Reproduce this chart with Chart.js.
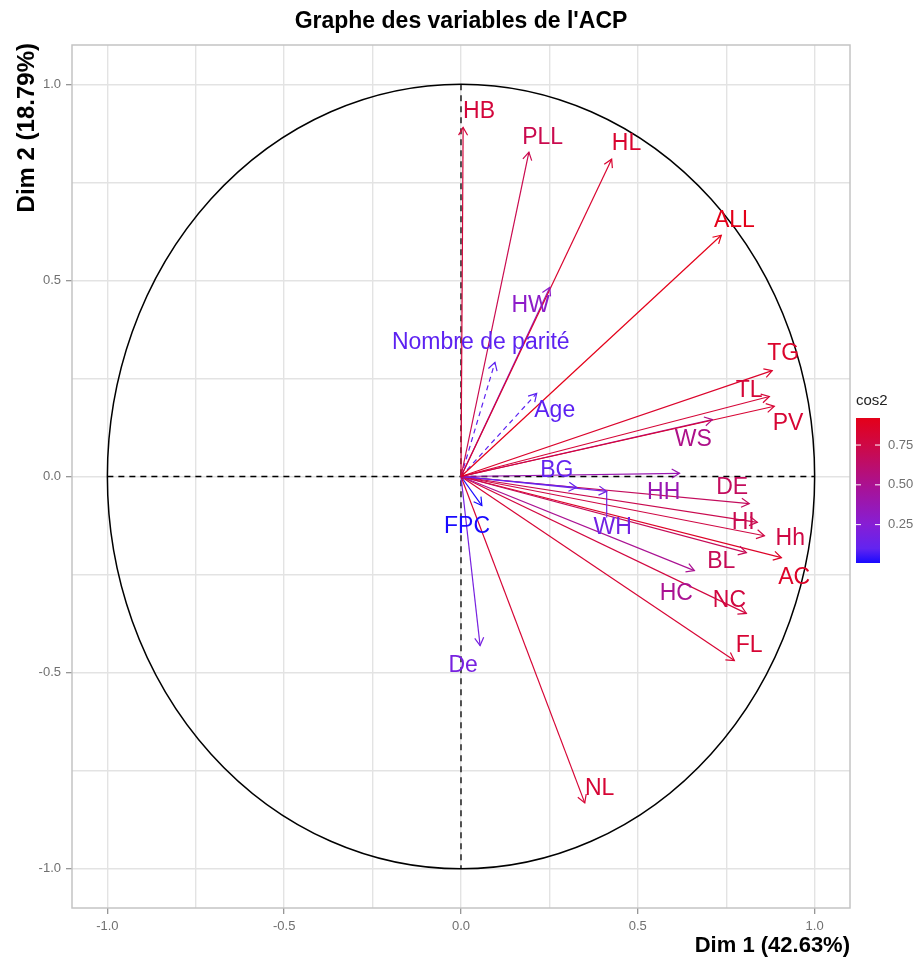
<!DOCTYPE html>
<html>
<head>
<meta charset="utf-8">
<script src="https://cdn.jsdelivr.net/npm/chart.js@4.4.0/dist/chart.umd.min.js"></script>
<style>
    body { margin: 0; background: #fff; }
    #acp-chart { display: block; }
</style>
</head>
<body>
<canvas id="acp-chart" width="920" height="964"></canvas>
<script>
const FONT = '"Liberation Sans", Arial, sans-serif'

// active variables: coordinates on Dim 1 / Dim 2
const varNames = ['HB', 'PLL', 'HL', 'ALL', 'HW', 'TG', 'TL', 'PV', 'WS', 'HH', 'BG', 'WH',
    'DE', 'HI', 'Hh', 'BL', 'AC', 'HC', 'NC', 'FL', 'NL', 'FPC', 'De']
const dim1 = [0.006, 0.192, 0.426, 0.736, 0.251, 0.880, 0.872, 0.886, 0.711, 0.618, 0.327, 0.412,
    0.815, 0.838, 0.858, 0.807, 0.906, 0.660, 0.807, 0.773, 0.350, 0.059, 0.054]
const dim2 = [0.890, 0.827, 0.809, 0.615, 0.482, 0.270, 0.204, 0.179, 0.145, 0.008, -0.028, -0.038,
    -0.069, -0.117, -0.151, -0.194, -0.207, -0.240, -0.349, -0.469, -0.832, -0.074, -0.431]
// where the (repelled) labels sit
const labelDim1 = [0.051, 0.231, 0.468, 0.773, 0.197, 0.911, 0.815, 0.925, 0.657, 0.573, 0.271, 0.429,
    0.767, 0.798, 0.931, 0.736, 0.942, 0.609, 0.759, 0.815, 0.392, 0.017, 0.006]
const labelDim2 = [0.931, 0.865, 0.849, 0.653, 0.436, 0.314, 0.219, 0.135, 0.094, -0.041, 0.015, -0.130,
    -0.028, -0.117, -0.158, -0.217, -0.258, -0.298, -0.316, -0.431, -0.796, -0.128, -0.482]

// supplementary variables (dashed)
const supNames = ['Nombre de parité', 'Age']
const supDim1 = [0.096, 0.214]
const supDim2 = [0.291, 0.212]
const supLabelDim1 = [0.056, 0.265]
const supLabelDim2 = [0.342, 0.168]

const gridTicks = [-1, -0.75, -0.5, -0.25, 0, 0.25, 0.5, 0.75, 1]
const majorTicks = [-1, -0.5, 0, 0.5, 1]
const tickLabels = ['-1.0', '-0.5', '0.0', '0.5', '1.0']
const legendTicks = [0.25, 0.5, 0.75]
const legendTickLabels = ['0.25', '0.50', '0.75']

const cos2 = dim1.map((v, i) => v * v + dim2[i] * dim2[i])
const supCos2 = supDim1.map((v, i) => v * v + supDim2[i] * supDim2[i])
const allCos2 = cos2.concat(supCos2)
const COS2_MIN = Math.min(...allCos2)
const COS2_MAX = Math.max(...allCos2)

// blue -> purple -> red
const STOPS = [
    [0, [25, 10, 255]],
    [0.1, [98, 36, 240]],
    [0.27, [135, 30, 212]],
    [0.52, [168, 18, 150]],
    [0.78, [202, 10, 78]],
    [1, [228, 0, 25]]
]

function cos2Color(v) {
    let t = (v - COS2_MIN) / (COS2_MAX - COS2_MIN)
    t = Math.max(0, Math.min(1, t))
    for (let i = 1; i < STOPS.length; i++) {
        if (t <= STOPS[i][0]) {
            const [t0, c0] = STOPS[i - 1]
            const [t1, c1] = STOPS[i]
            const f = (t - t0) / (t1 - t0)
            const c = c0.map((c, k) => Math.round(c + (c1[k] - c) * f))
            return `rgb(${c[0]},${c[1]},${c[2]})`
        }
    }
    return 'rgb(228,0,25)'
}

// one dataset per arrow: origin -> variable coordinates
const arrows = varNames.map((name, i) => ({
    name: name,
    x: dim1[i], y: dim2[i],
    lx: labelDim1[i], ly: labelDim2[i],
    color: cos2Color(cos2[i]),
    dashed: false
})).concat(supNames.map((name, i) => ({
    name: name,
    x: supDim1[i], y: supDim2[i],
    lx: supLabelDim1[i], ly: supLabelDim2[i],
    color: cos2Color(supCos2[i]),
    dashed: true
})))

const datasets = arrows.map(a => ({
    label: a.name,
    data: [{ x: 0, y: 0 }, { x: a.x, y: a.y }],
    showLine: true,
    borderColor: a.color,
    borderWidth: 1.2,
    borderDash: a.dashed ? [5, 4] : [],
    pointRadius: 0,
    fill: false
}))

const acpPlugin = {
    id: 'acp',
    beforeDatasetsDraw(chart) {
        const { ctx, chartArea: area, scales: { x, y } } = chart
        ctx.save()
        // panel border
        ctx.strokeStyle = '#c4c4c4'
        ctx.lineWidth = 1.5
        ctx.strokeRect(area.left, area.top, area.right - area.left, area.bottom - area.top)

        // correlation circle
        const cx = x.getPixelForValue(0)
        const cy = y.getPixelForValue(0)
        const rx = x.getPixelForValue(1) - cx
        const ry = cy - y.getPixelForValue(1)
        ctx.strokeStyle = '#000'
        ctx.lineWidth = 1.5
        ctx.beginPath()
        ctx.ellipse(cx, cy, rx, ry, 0, 0, Math.PI * 2)
        ctx.stroke()

        // dashed axes
        ctx.setLineDash([6, 5])
        ctx.lineWidth = 1.3
        ctx.beginPath()
        ctx.moveTo(x.getPixelForValue(-1), cy)
        ctx.lineTo(x.getPixelForValue(1), cy)
        ctx.moveTo(cx, y.getPixelForValue(1))
        ctx.lineTo(cx, y.getPixelForValue(-1))
        ctx.stroke()
        ctx.restore()
    },
    afterDatasetsDraw(chart) {
        const { ctx, scales: { x, y } } = chart
        ctx.save()
        // arrow heads
        arrows.forEach((a, i) => {
            const meta = chart.getDatasetMeta(i)
            const p0 = meta.data[0]
            const p1 = meta.data[1]
            const ang = Math.atan2(p1.y - p0.y, p1.x - p0.x)
            const len = 9
            const spread = Math.PI / 6
            ctx.strokeStyle = a.color
            ctx.lineWidth = 1.2
            ctx.setLineDash([])
            ctx.beginPath()
            ctx.moveTo(p1.x - len * Math.cos(ang - spread), p1.y - len * Math.sin(ang - spread))
            ctx.lineTo(p1.x, p1.y)
            ctx.lineTo(p1.x - len * Math.cos(ang + spread), p1.y - len * Math.sin(ang + spread))
            ctx.stroke()
        })

        // labels
        ctx.font = `23px ${FONT}`
        ctx.textAlign = 'center'
        ctx.textBaseline = 'middle'
        arrows.forEach((a, i) => {
            const meta = chart.getDatasetMeta(i)
            const tip = meta.data[1]
            const lx = x.getPixelForValue(a.lx)
            const ly = y.getPixelForValue(a.ly)
            const w = ctx.measureText(a.name).width
            const h = 20
            // segment like ggrepel when the label is far from its point
            const bx = Math.max(lx - w / 2, Math.min(tip.x, lx + w / 2))
            const by = Math.max(ly - h / 2, Math.min(tip.y, ly + h / 2))
            if (Math.hypot(tip.x - bx, tip.y - by) > 15) {
                ctx.strokeStyle = a.color
                ctx.lineWidth = 1.2
                ctx.beginPath()
                ctx.moveTo(bx, by)
                ctx.lineTo(tip.x, tip.y)
                ctx.stroke()
            }
            ctx.fillStyle = a.color
            ctx.fillText(a.name, lx, ly)
        })
        ctx.restore()
    },
    afterDraw(chart) {
        const { ctx, chartArea: area } = chart
        ctx.save()
        ctx.fillStyle = '#000'

        // title
        ctx.font = `bold 23px ${FONT}`
        ctx.textAlign = 'center'
        ctx.textBaseline = 'middle'
        ctx.fillText("Graphe des variables de l'ACP", (area.left + area.right) / 2, 22)

        // axis titles
        ctx.font = `bold 22px ${FONT}`
        ctx.textAlign = 'right'
        ctx.fillText('Dim 1 (42.63%)', area.right, 946)

        ctx.translate(27, area.top - 2)
        ctx.rotate(-Math.PI / 2)
        ctx.font = `bold 24px ${FONT}`
        ctx.textAlign = 'right'
        ctx.fillText('Dim 2 (18.79%)', 0, 0)
        ctx.setTransform(1, 0, 0, 1, 0, 0)

        // cos2 colour bar
        const barLeft = 856, barW = 24, barTop = 418, barBottom = 563
        const grad = ctx.createLinearGradient(0, barBottom, 0, barTop)
        STOPS.forEach(([t, c]) => grad.addColorStop(t, `rgb(${c[0]},${c[1]},${c[2]})`))
        ctx.fillStyle = grad
        ctx.fillRect(barLeft, barTop, barW, barBottom - barTop)

        ctx.fillStyle = '#222'
        ctx.font = `15px ${FONT}`
        ctx.textAlign = 'left'
        ctx.fillText('cos2', barLeft, 401)

        ctx.font = `13px ${FONT}`
        legendTicks.forEach((v, i) => {
            const ty = barBottom - (v - COS2_MIN) / (COS2_MAX - COS2_MIN) * (barBottom - barTop)
            ctx.strokeStyle = '#fff'
            ctx.lineWidth = 1
            ctx.beginPath()
            ctx.moveTo(barLeft, ty); ctx.lineTo(barLeft + 5, ty)
            ctx.moveTo(barLeft + barW - 5, ty); ctx.lineTo(barLeft + barW, ty)
            ctx.stroke()
            ctx.fillStyle = '#707070'
            ctx.fillText(legendTickLabels[i], 888, ty)
        })
        ctx.restore()
    }
}

function axisOptions(isX) {
    return {
        type: 'linear',
        min: -1.1,
        max: 1.1,
        afterBuildTicks: s => { s.ticks = gridTicks.map(v => ({ value: v })) },
        afterFit: s => {
            if (isX) s.height = 56
            else s.width = 72
        },
        grid: {
            color: '#e3e3e3',
            lineWidth: 1.4,
            drawTicks: true,
            tickLength: 6,
            tickWidth: 1.2,
            tickColor: c => (c.tick && majorTicks.includes(c.tick.value)) ? '#8c8c8c' : 'rgba(0,0,0,0)'
        },
        border: { display: false },
        ticks: {
            autoSkip: false,
            maxRotation: 0,
            padding: 5,
            color: '#707070',
            font: { size: 13, family: FONT },
            callback: v => {
                const i = majorTicks.indexOf(v)
                return i >= 0 ? tickLabels[i] : ''
            }
        }
    }
}

const chart = new Chart(document.getElementById('acp-chart'), {
    type: 'scatter',
    data: { datasets: datasets },
    options: {
        responsive: false,
        devicePixelRatio: 1,
        animation: false,
        events: [],
        layout: { padding: { top: 45, right: 70, left: 0, bottom: 0 } },
        plugins: {
            legend: { display: false },
            tooltip: { enabled: false }
        },
        scales: {
            x: axisOptions(true),
            y: axisOptions(false)
        }
    },
    plugins: [acpPlugin]
})
</script>
</body>
</html>
